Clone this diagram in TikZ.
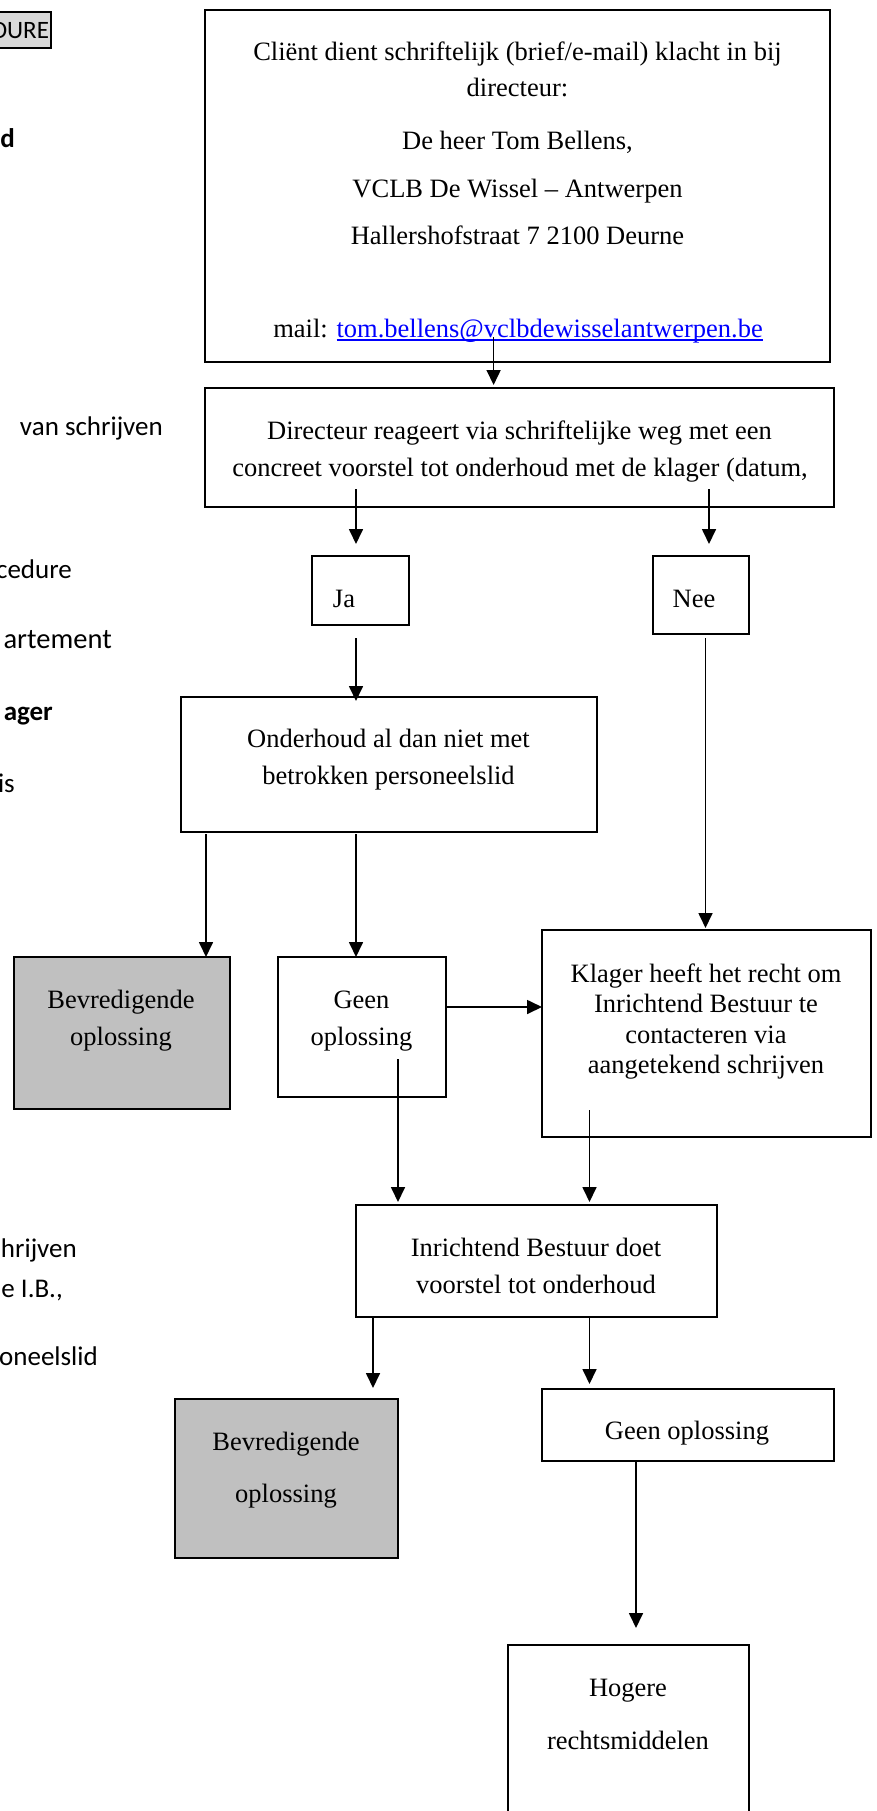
\documentclass[tikz,border=0pt]{standalone}
\usepackage{fontspec}
\setmainfont{Liberation Serif}
\newfontfamily\carlito{Carlito}
\usetikzlibrary{arrows.meta}
\definecolor{boxgray}{HTML}{C0C0C0}
\definecolor{tabgray}{HTML}{D9D9D9}
\definecolor{linkblue}{HTML}{0000FF}
\newcommand\ulink[1]{\setbox0\hbox{#1}\rlap{\rule[-3.5pt]{\wd0}{1.3pt}}\box0}
\begin{document}
\begin{tikzpicture}[x=1pt,y=-1pt,
  box/.style={draw, line width=2pt, inner sep=0pt, outer sep=0pt},
  graybox/.style={box, fill=boxgray},
  txt/.style={font=\fontsize{26.5}{37}\selectfont, inner sep=0pt, anchor=base},
  side/.style={font=\carlito\fontsize{27}{32}\selectfont, inner sep=0pt, anchor=base east},
  arr/.style={line width=1.7pt, -{Triangle[width=14pt,length=15pt]}}]
\useasboundingbox (0,0) rectangle (877,1811);
\fill[white] (0,0) rectangle (877,1811);

% ---- side text (cut off from the page on the left) ----
\node[draw, fill=tabgray, line width=2pt, anchor=east, minimum height=36pt,
      inner xsep=2pt, inner ysep=0pt, font=\carlito\fontsize{25}{30}\selectfont] (tab) at (52,30) {PROCEDURE};
\node[side, font=\carlito\bfseries\fontsize{27}{32}\selectfont] (s1) at (15,148) {d};
\node[side] (s2) at (163,435) {van schrijven};
\node[side] (s3) at (72,578) {cedure};
\node[side, font=\carlito\fontsize{28.5}{33}\selectfont] (s4) at (112,648) {artement};
\node[side, font=\carlito\bfseries\fontsize{27}{32}\selectfont] (s5) at (53,720) {ager};
\node[side] (s6) at (15,792) {is};
\node[side] (s7) at (77,1257) {hrijven};
\node[side] (s8) at (63,1297) {e I.B.,};
\node[side] (s9) at (98,1365) {oneelslid};

% ---- boxes ----
\node[box, minimum width=625pt, minimum height=352pt] (b1) at (517.5,186) {};
\node[box, minimum width=629pt, minimum height=119pt] (b2) at (519.5,447.5) {};
\node[box, minimum width=97pt, minimum height=69pt] (ja) at (360.5,590.5) {};
\node[box, minimum width=96pt, minimum height=78pt] (nee) at (701,595) {};
\node[box, minimum width=416pt, minimum height=135pt] (ond) at (389,764.5) {};
\node[graybox, minimum width=215.5pt, minimum height=152pt] (bev1) at (121.75,1033) {};
\node[box, minimum width=168pt, minimum height=140pt] (geen1) at (362,1027) {};
\node[box, minimum width=329pt, minimum height=207pt] (klag) at (706.5,1033.5) {};
\node[box, minimum width=360.5pt, minimum height=112pt] (inr) at (536.25,1261) {};
\node[graybox, minimum width=223.5pt, minimum height=158.5pt] (bev2) at (286.25,1478.25) {};
\node[box, minimum width=292pt, minimum height=72pt] (geen2) at (688,1425) {};
\node[box, minimum width=241pt, minimum height=215pt] (hog) at (628.5,1752.5) {};

% ---- texts ----
\node[txt] (t1a) at (517.5,61) {Cliënt dient schriftelijk (brief/e-mail) klacht in bij};
\node[txt] (t1b) at (517.5,97) {directeur:};
\node[txt] (t1c) at (517.5,150) {De heer Tom Bellens,};
\node[txt] (t1d) at (517.5,198) {VCLB De Wissel – Antwerpen};
\node[txt] (t1e) at (517.5,245) {Hallershofstraat 7 2100 Deurne};
\node[txt] (t1f) at (518,337) {mail: {\color{linkblue}\ulink{tom.bellens@vclbdewisselantwerpen.be}}};

\node[txt] (t2a) at (519.5,439) {Directeur reageert via schriftelijke weg met een};
\node[txt] (t2b) at (520,476) {concreet voorstel tot onderhoud met de klager (datum,};

\node[txt] (tja) at (344,607) {Ja};
\node[txt] (tnee) at (694,607) {Nee};

\node[txt] (tonda) at (388.5,747) {Onderhoud al dan niet met};
\node[txt] (tondb) at (388.5,784) {betrokken personeelslid};

\node[txt] (tb1a) at (121,1008) {Bevredigende};
\node[txt] (tb1b) at (121,1045) {oplossing};

\node[txt] (tg1a) at (361.5,1008) {Geen};
\node[txt] (tg1b) at (361.5,1045) {oplossing};

\node[txt] (tka) at (706,982) {Klager heeft het recht om};
\node[txt] (tkb) at (706,1012.5) {Inrichtend Bestuur te};
\node[txt] (tkc) at (706,1043) {contacteren via};
\node[txt] (tkd) at (706,1073) {aangetekend schrijven};

\node[txt] (tia) at (536,1256.5) {Inrichtend Bestuur doet};
\node[txt] (tib) at (536,1293.5) {voorstel tot onderhoud};

\node[txt] (tb2a) at (286,1450) {Bevredigende};
\node[txt] (tb2b) at (286,1502) {oplossing};

\node[txt] (tg2) at (687,1439.5) {Geen oplossing};

\node[txt] (tha) at (628,1696) {Hogere};
\node[txt] (thb) at (628,1749) {rechtsmiddelen};

% ---- connectors ----
\coordinate (c1) at (493.6,337);
\coordinate (c2) at (356,489);
\coordinate (c3) at (709,489);
\coordinate (xn) at (705.5,0);
\coordinate (xb) at (206,0);
\coordinate (yh) at (0,1007);
\coordinate (c9) at (398,1059);
\coordinate (c10) at (589.5,1110);
\coordinate (xi) at (373,0);
\coordinate (xh) at (636,0);

\draw[arr, shorten >=3pt] (c1) -- (c1 |- b2.north);
\draw[arr, shorten >=12pt] (c2) -- (c2 |- ja.north);
\draw[arr, shorten >=12pt] (c3) -- (c3 |- nee.north);
\draw[arr, shorten <=13pt, shorten >=-4pt] (ja.south -| c2) -- (ond.north -| c2);
\draw[arr, shorten <=4pt, shorten >=2pt] (nee.south -| xn) -- (klag.north -| xn);
\draw[arr, shorten <=2pt] (ond.south -| xb) -- (bev1.north -| xb);
\draw[arr, shorten <=2pt] (ond.south -| c2) -- (geen1.north -| c2);
\draw[arr] (geen1.east |- yh) -- (klag.west |- yh);
\draw[arr, shorten >=3pt] (c9) -- (c9 |- inr.north);
\draw[arr, shorten >=3pt] (c10) -- (c10 |- inr.north);
\draw[arr, shorten >=11pt] (inr.south -| xi) -- (bev2.north -| xi);
\draw[arr, shorten >=5pt] (inr.south -| c10) -- (geen2.north -| c10);
\draw[arr, shorten >=17pt] (geen2.south -| xh) -- (hog.north -| xh);
\end{tikzpicture}
\end{document}
